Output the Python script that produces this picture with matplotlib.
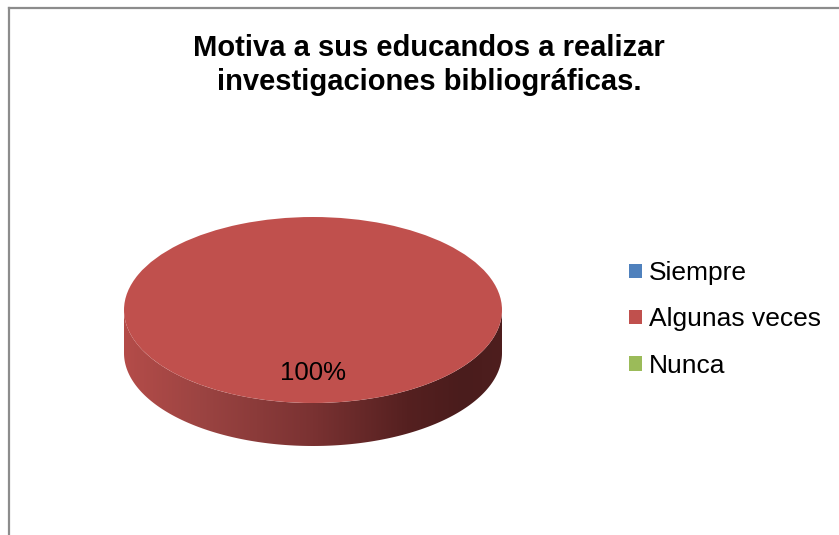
import numpy as np
import matplotlib
matplotlib.use("Agg")
import matplotlib.pyplot as plt
from matplotlib.path import Path
from matplotlib.patches import PathPatch
from matplotlib.lines import Line2D
from matplotlib.colors import LinearSegmentedColormap

# ---- data ----
categories = ["Siempre", "Algunas veces", "Nunca"]
values = [0, 100, 0]
colors = ["#4F81BD", "#C0504D", "#9BBB59"]
title = "Motiva a sus educandos a realizar\ninvestigaciones bibliográficas."

plt.rcParams['font.family'] = ['Liberation Sans', 'DejaVu Sans']

W, H = 839, 535
fig = plt.figure(figsize=(W / 100, H / 100), dpi=100)
fig.patch.set_facecolor("white")

# pie geometry in pixels (image coords, origin top-left)
cx, cy = 313, 310
rx, ry = 189, 93
depth_px = 43
hw, hh = 260, 150
ax = fig.add_axes([(cx - hw) / W, 1 - (cy + hh) / H, 2 * hw / W, 2 * hh / H])

def pct(p):
    return f"{p:.0f}%" if p > 0.5 else ""

wedges, texts, autotexts = ax.pie(values, colors=colors, startangle=90,
                                  autopct=pct, pctdistance=0.68,
                                  wedgeprops=dict(linewidth=0),
                                  textprops=dict(fontsize=18.5, color="black"))
for w in wedges:
    w.set_zorder(3)
for t in autotexts:
    t.set_zorder(5)
ax.set_aspect('auto')
ax.set_xlim(-hw / rx, hw / rx)
ax.set_ylim(-hh / ry, hh / ry)
ax.axis('off')

# 3D side of the pie (gradient band under the top ellipse)
d = depth_px / ry
t1 = np.linspace(np.pi, 2 * np.pi, 200)
t2 = t1[::-1]
xs = np.concatenate([np.cos(t1), np.cos(t2)])
ys = np.concatenate([np.sin(t1), np.sin(t2) - d])
verts = np.column_stack([xs, ys])
path = Path(np.vstack([verts, verts[:1]]),
            [Path.MOVETO] + [Path.LINETO] * (len(verts) - 1) + [Path.CLOSEPOLY])
side = PathPatch(path, facecolor="none", edgecolor="none")
ax.add_patch(side)
cmap = LinearSegmentedColormap.from_list(
    "side", [(0.0, "#B44C49"), (0.2, "#9C4442"), (0.5, "#7A3232"),
             (0.75, "#552020"), (0.9, "#4A1C1C"), (1.0, "#4E1E1E")])
grad = np.linspace(0, 1, 256).reshape(1, -1)
im = ax.imshow(grad, cmap=cmap, extent=(-1, 1, -1 - d, 0.05), aspect='auto',
               zorder=2, interpolation='bicubic')
im.set_clip_path(side)

# title
fig.text(429 / W, 1 - 34 / H, title, ha='center', va='top', fontsize=21,
         fontweight='bold', linespacing=1.25)

# legend
leg = fig.legend(wedges, categories, loc='upper left',
                 bbox_to_anchor=(629 / W, 1 - 261 / H), frameon=False,
                 fontsize=19, handlelength=0.5, handleheight=0.45,
                 handletextpad=0.25, labelspacing=0.85, borderpad=0,
                 borderaxespad=0)

# outer border (partially visible chart frame)
fig.add_artist(Line2D([8.5 / W, 8.5 / W], [0, 1 - 7.5 / H], color="#8C8C8C",
                      linewidth=1.6, transform=fig.transFigure))
fig.add_artist(Line2D([8.5 / W, 1], [1 - 7.5 / H, 1 - 7.5 / H], color="#8C8C8C",
                      linewidth=1.6, transform=fig.transFigure))

fig.savefig("out.png", dpi=100, facecolor="white")
